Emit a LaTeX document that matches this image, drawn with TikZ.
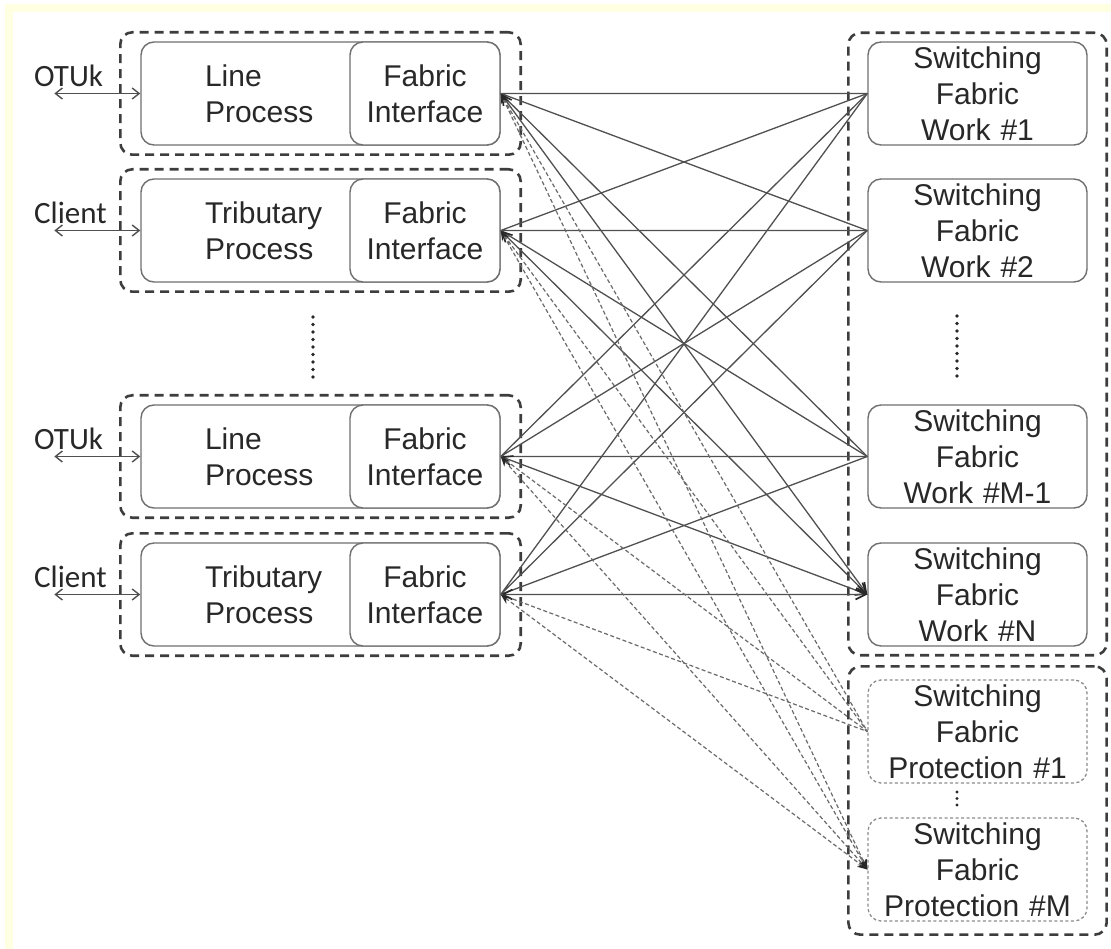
\documentclass[tikz,border=0pt]{standalone}
\usepackage{fontspec}
\setmainfont{Liberation Sans}
\newfontfamily\portfont{Carlito}
\usepackage{tikz}
\usetikzlibrary{arrows.meta,fit,positioning}
\definecolor{edgegray}{RGB}{112,112,112}
\definecolor{inkgray}{RGB}{40,40,40}
\definecolor{linkgray}{RGB}{80,80,80}
\definecolor{paperyellow}{RGB}{255,255,226}

\begin{document}
\begin{tikzpicture}[x=1pt, y=-1pt,
 procbox/.style={draw=edgegray, line width=1.4pt, rounded corners=13pt,
          fill=white, minimum width=359pt, minimum height=103pt,
          text width=231pt, inner xsep=64pt, inner ysep=0pt, align=left,
          font=\fontsize{30}{36}\selectfont, text=inkgray},
 fibox/.style={draw=edgegray, line width=1.4pt, rounded corners=13pt,
          fill=white, minimum width=150pt, minimum height=103pt,
          text width=140pt, inner xsep=5pt, inner ysep=0pt, align=center,
          font=\fontsize{30}{36}\selectfont, text=inkgray},
 fabbox/.style={draw=edgegray, line width=1.4pt, rounded corners=13pt,
          fill=white, minimum width=219pt, minimum height=103pt,
          text width=210pt, inner xsep=4.5pt, inner ysep=0pt, align=center,
          font=\fontsize{30}{36}\selectfont, text=inkgray},
 protbox/.style={fabbox, draw=edgegray!80, line width=1.3pt,
          dash pattern=on 3pt off 2.5pt},
 groupbox/.style={draw=inkgray!90, line width=2.6pt, rounded corners=12pt,
          dash pattern=on 9pt off 6pt},
 portlabel/.style={font=\portfont\fontsize{31}{36}\selectfont, text=inkgray,
          inner sep=0pt},
 io/.style={{Straight Barb[length=7pt,width=11pt]}-{Straight Barb[length=7pt,width=11pt]},
          draw=linkgray, line width=1.4pt},
 link/.style={{Straight Barb[length=10pt,width=10pt,line width=1.6pt,color=inkgray]}-{Straight Barb[length=10pt,width=10pt,line width=1.6pt,color=inkgray]},
          draw=linkgray, line width=1.3pt},
 backup/.style={{Stealth[length=10pt,width=8pt,color=inkgray]}-{Stealth[length=10pt,width=8pt,color=inkgray]},
          draw=linkgray!85, line width=1.2pt, dash pattern=on 4pt off 2.5pt},
 vdots/.style={draw=inkgray, line width=3.6pt, line cap=round,
          dash pattern=on 0pt off 7.5pt}
]
\useasboundingbox (0,0) rectangle (1111,949);
% paper with its yellow edge
\fill[white] (0,0) rectangle (1111,949);
\fill[paperyellow] (5,4) rectangle (1111,949);
\fill[white] (13,12) rectangle (1111,949);

% Line cards on the left
\node[procbox] (lp1) at (320.5, 93.5) {Line\\Process};
\node[fibox] (fi1) at (425, 93.5) {Fabric\\Interface};
\node[procbox] (lp2) at (320.5, 230.5) {Tributary\\Process};
\node[fibox] (fi2) at (425, 230.5) {Fabric\\Interface};
\node[procbox] (lp3) at (320.5, 456.5) {Line\\Process};
\node[fibox] (fi3) at (425, 456.5) {Fabric\\Interface};
\node[procbox] (lp4) at (320.5, 594.5) {Tributary\\Process};
\node[fibox] (fi4) at (425, 594.5) {Fabric\\Interface};
\node[groupbox, fit=(lp1)(fi1), inner xsep=20pt, inner ysep=9pt] (g1) {};
\node[groupbox, fit=(lp2)(fi2), inner xsep=20pt, inner ysep=9pt] (g2) {};
\node[groupbox, fit=(lp3)(fi3), inner xsep=20pt, inner ysep=9pt] (g3) {};
\node[groupbox, fit=(lp4)(fi4), inner xsep=20pt, inner ysep=9pt] (g4) {};
\draw[vdots] (313,317) -- (313,378);

% client side ports
\coordinate[left=86pt of lp1.west] (in1);
\coordinate[left=86pt of lp2.west] (in2);
\coordinate[left=86pt of lp3.west] (in3);
\coordinate[left=86pt of lp4.west] (in4);
\node[portlabel, anchor=base west] (otu1) at (34, 86.5) {OTUk};
\node[portlabel, anchor=base west] (cli2) at (34, 223.5) {Client};
\node[portlabel, anchor=base west] (otu3) at (34, 449.5) {OTUk};
\node[portlabel, anchor=base west] (cli4) at (34, 587.5) {Client};
\draw[io] (in1) -- (lp1.west);
\draw[io] (in2) -- (lp2.west);
\draw[io] (in3) -- (lp3.west);
\draw[io] (in4) -- (lp4.west);

% Switching fabrics on the right
\node[fabbox] (w1) at (977.5, 93.5) {Switching\\Fabric\\Work \#1};
\node[fabbox] (w2) at (977.5, 230.5) {Switching\\Fabric\\Work \#2};
\node[fabbox] (wm) at (977.5, 456.5) {Switching\\Fabric\\Work \#M-1};
\node[fabbox] (wn) at (977.5, 594.5) {Switching\\Fabric\\Work \#N};
\node[groupbox, fit=(w1)(wn), inner xsep=19pt, inner ysep=8.5pt] (gw) {};
\draw[vdots] (957,316) -- (957,377);
\node[protbox] (p1) at (977.5, 731.5) {Switching\\Fabric\\Protection \#1};
\node[protbox] (pm) at (977.5, 869.5) {Switching\\Fabric\\Protection \#M};
\node[groupbox, fit=(p1)(pm), inner xsep=19pt, inner ysep=13pt] (gp) {};
\draw[vdots, line width=3.2pt, dash pattern=on 0pt off 6.5pt] (957,792) -- (957,806);

% full mesh to the working fabrics
\draw[link] (fi1.east) -- (w1.west) (fi1.east) -- (w2.west)
            (fi1.east) -- (wm.west) (fi1.east) -- (wn.west);
\draw[link] (fi2.east) -- (w1.west) (fi2.east) -- (w2.west)
            (fi2.east) -- (wm.west) (fi2.east) -- (wn.west);
\draw[link] (fi3.east) -- (w1.west) (fi3.east) -- (w2.west)
            (fi3.east) -- (wm.west) (fi3.east) -- (wn.west);
\draw[link] (fi4.east) -- (w1.west) (fi4.east) -- (w2.west)
            (fi4.east) -- (wm.west) (fi4.east) -- (wn.west);
% protection paths
\draw[backup] (fi1.east) -- (p1.west) (fi1.east) -- (pm.west);
\draw[backup] (fi2.east) -- (p1.west) (fi2.east) -- (pm.west);
\draw[backup] (fi3.east) -- (p1.west) (fi3.east) -- (pm.west);
\draw[backup] (fi4.east) -- (p1.west) (fi4.east) -- (pm.west);
\end{tikzpicture}
\end{document}
